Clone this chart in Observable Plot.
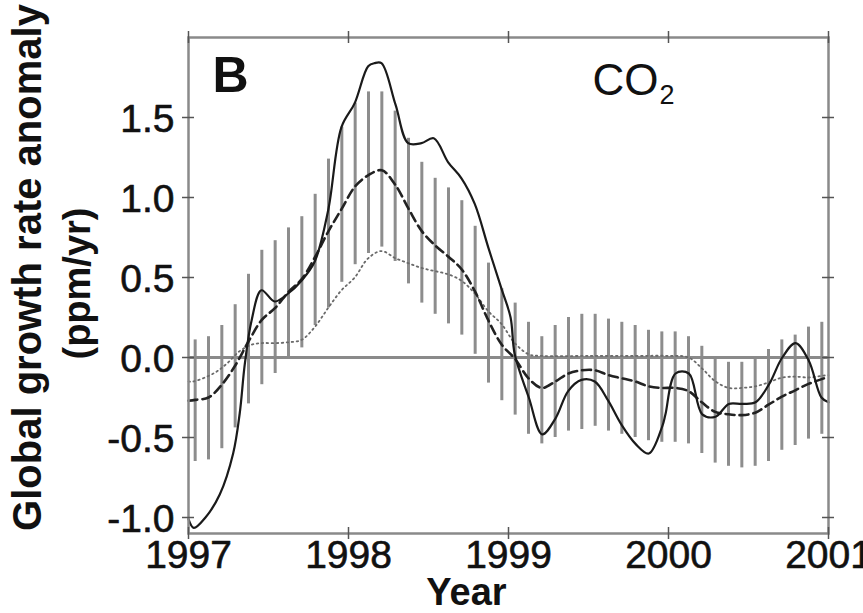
<!DOCTYPE html>
<html><head><meta charset="utf-8">
<script src="https://cdn.jsdelivr.net/npm/d3@7"></script>
<script src="https://cdn.jsdelivr.net/npm/@observablehq/plot@0.6"></script>
<style>
html,body{margin:0;padding:0;background:#fff;}
#chart{width:863px;height:613px;overflow:hidden;}
</style></head><body><div id="chart"></div>
<script>
// ---- data (decimal years, ppm/yr) ----
const xTicks = [1997, 1998, 1999, 2000, 2001];
const yTicks = [-1.0, -0.5, 0.0, 0.5, 1.0, 1.5];

// monthly uncertainty bars (mid-month), 1997-01 .. 2000-12
const barHigh = [0.11, 0.13, 0.20, 0.33, 0.52, 0.67, 0.73, 0.81, 0.88, 1.02, 1.24, 1.44,
                 1.59, 1.66, 1.66, 1.54, 1.37, 1.22, 1.12, 1.06, 0.98, 0.82, 0.59, 0.43,
                 0.34, 0.22, 0.13, 0.20, 0.25, 0.27, 0.27, 0.24, 0.22, 0.20, 0.17, 0.16,
                 0.16, 0.13, 0.07, 0.00, -0.03, -0.03, 0.00, 0.05, 0.11, 0.14, 0.19, 0.22];
const barLow  = [-0.65, -0.64, -0.57, -0.44, -0.29, -0.17, -0.10, 0.00, 0.06, 0.20, 0.31, 0.47,
                 0.58, 0.65, 0.69, 0.60, 0.46, 0.34, 0.27, 0.21, 0.14, 0.02, -0.16, -0.27,
                 -0.36, -0.48, -0.54, -0.50, -0.46, -0.45, -0.43, -0.46, -0.48, -0.50, -0.52, -0.53,
                 -0.53, -0.54, -0.60, -0.66, -0.68, -0.69, -0.68, -0.65, -0.58, -0.55, -0.51, -0.48];
const barTime = d3.range(barHigh.length).map(i => 1997 + (i + 0.5) / 12);

// solid line (observed)
const solidT = [1997.0, 1997.033, 1997.106, 1997.196, 1997.279, 1997.32, 1997.352, 1997.394, 1997.456,
  1997.539, 1997.623, 1997.706, 1997.789, 1997.873, 1997.956, 1998.039, 1998.123, 1998.163, 1998.206,
  1998.294, 1998.373, 1998.456, 1998.533, 1998.623, 1998.706, 1998.789, 1998.873, 1998.956, 1999.013,
  1999.039, 1999.127, 1999.211, 1999.294, 1999.373, 1999.456, 1999.539, 1999.623, 1999.706, 1999.794,
  1999.877, 1999.961, 1999.981, 2000.044, 2000.127, 2000.211, 2000.294, 2000.377, 2000.461, 2000.544,
  2000.627, 2000.711, 2000.794, 2000.877, 2000.956, 2001.0];
const solidV = [-1.01, -1.065, -1.0, -0.855, -0.60, -0.35, -0.04, 0.23, 0.42,
  0.35, 0.40, 0.48, 0.60, 0.92, 1.44, 1.59, 1.82, 1.84, 1.84,
  1.58, 1.34, 1.34, 1.37, 1.22, 1.12, 0.96, 0.69, 0.43, 0.25,
  0.02, -0.25, -0.48, -0.38, -0.21, -0.14, -0.15, -0.27, -0.42, -0.54,
  -0.60, -0.43, -0.355, -0.10, -0.10, -0.355, -0.37, -0.29, -0.29, -0.28,
  -0.17, 0.0, 0.09, -0.02, -0.25, -0.28];

// dashed line (model mean)
const dashT = [1997.0, 1997.042, 1997.125, 1997.208, 1997.292, 1997.375, 1997.458, 1997.542, 1997.625,
  1997.708, 1997.792, 1997.875, 1997.958, 1998.042, 1998.125, 1998.208, 1998.292, 1998.375, 1998.458,
  1998.542, 1998.625, 1998.708, 1998.792, 1998.875, 1998.958, 1999.042, 1999.125, 1999.208, 1999.292,
  1999.375, 1999.458, 1999.542, 1999.625, 1999.708, 1999.792, 1999.875, 1999.958, 2000.042, 2000.125,
  2000.208, 2000.292, 2000.375, 2000.458, 2000.542, 2000.625, 2000.708, 2000.792, 2000.875, 2000.958, 2001.0];
const dashV = [-0.27, -0.265, -0.25, -0.17, -0.05, 0.10, 0.235, 0.31, 0.41,
  0.49, 0.63, 0.79, 0.93, 1.07, 1.14, 1.17, 1.08, 0.93, 0.79,
  0.70, 0.63, 0.55, 0.41, 0.23, 0.08, -0.01, -0.13, -0.19, -0.15,
  -0.10, -0.08, -0.08, -0.11, -0.13, -0.15, -0.18, -0.19, -0.19, -0.21,
  -0.28, -0.34, -0.355, -0.36, -0.345, -0.295, -0.245, -0.205, -0.165, -0.135, -0.12];

// dotted line (second model)
const dotT = [1997.0, 1997.03, 1997.156, 1997.238, 1997.32, 1997.394, 1997.456, 1997.539, 1997.623,
  1997.706, 1997.789, 1997.873, 1997.956, 1998.039, 1998.123, 1998.206, 1998.294, 1998.373, 1998.456,
  1998.539, 1998.623, 1998.706, 1998.789, 1998.873, 1998.956, 1999.039, 1999.127, 1999.211, 1999.5,
  1999.8, 2000.0, 2000.125, 2000.211, 2000.294, 2000.377, 2000.461, 2000.544, 2000.627, 2000.711,
  2000.794, 2000.877, 2000.956, 2001.0];
const dotV = [-0.15, -0.15, -0.10, -0.04, 0.04, 0.08, 0.09, 0.09, 0.095,
  0.11, 0.19, 0.31, 0.42, 0.50, 0.62, 0.665, 0.62, 0.59, 0.56,
  0.54, 0.52, 0.48, 0.40, 0.29, 0.21, 0.09, 0.02, 0.01, 0.01,
  0.01, 0.01, 0.0, -0.07, -0.15, -0.19, -0.19, -0.18, -0.155, -0.125,
  -0.12, -0.125, -0.115, -0.11];

// ---- build ----
const xDom = [1997, 2001], yDom = [-1.1, 2.0];
const W = 863, H = 613, mL = 188, mR = 35, mT = 37, mB = 80;
const kx = 6 * (xDom[1] - xDom[0]) / (W - mL - mR);
const ky = 6 * (yDom[1] - yDom[0]) / (H - mT - mB);
const font = "'Liberation Sans', Arial, Helvetica, sans-serif";
const bars = barTime.map((t, i) => ({t, lo: barLow[i], hi: barHigh[i]}));
const solid = solidT.map((t, i) => ({t, v: solidV[i]}));
const dashed = dashT.map((t, i) => ({t, v: dashV[i]}));
const dotted = dotT.map((t, i) => ({t, v: dotV[i]}));
const tickCol = "#555";
const ink = "#111";

const chart = Plot.plot({
  width: W, height: H,
  marginLeft: mL, marginRight: mR, marginTop: mT, marginBottom: mB,
  style: {background: "#fff", fontFamily: font, color: ink},
  x: {domain: xDom, axis: null},
  y: {domain: yDom, axis: null},
  marks: [
    Plot.ruleX(bars, {x: "t", y1: "lo", y2: "hi", stroke: "#8d8d8d", strokeWidth: 3}),
    Plot.ruleY([0], {stroke: "#8a8a8a", strokeWidth: 3}),
    Plot.line(dotted, {x: "t", y: "v", stroke: "#6a6a6a", strokeWidth: 1.8, strokeDasharray: "1.5,3.5", curve: "catmull-rom"}),
    Plot.line(dashed, {x: "t", y: "v", stroke: "#222", strokeWidth: 2.6, strokeDasharray: "9,5", curve: "catmull-rom"}),
    Plot.line(solid, {x: "t", y: "v", stroke: "#1a1a1a", strokeWidth: 2.2, curve: "catmull-rom"}),
    Plot.frame({stroke: "#8a8a8a", strokeWidth: 2.5}),
    // ticks crossing the frame on all four sides
    Plot.ruleX(xTicks, {x: d => d, y1: yDom[0] - ky, y2: yDom[0] + ky, stroke: tickCol, strokeWidth: 1.5}),
    Plot.ruleX(xTicks, {x: d => d, y1: yDom[1] - ky, y2: yDom[1] + ky, stroke: tickCol, strokeWidth: 1.5}),
    Plot.ruleY(yTicks, {y: d => d, x1: xDom[0] - kx, x2: xDom[0] + kx, stroke: tickCol, strokeWidth: 1.5}),
    Plot.ruleY(yTicks, {y: d => d, x1: xDom[1] - kx, x2: xDom[1] + kx, stroke: tickCol, strokeWidth: 1.5}),
    // tick labels
    Plot.text(yTicks, {y: d => d, frameAnchor: "left", text: d => d.toFixed(1), textAnchor: "end",
      lineAnchor: "middle", dx: -14, dy: 2, fontSize: 39, fill: ink, stroke: ink, strokeWidth: 0.6}),
    Plot.text(xTicks, {x: d => d, frameAnchor: "bottom", text: d => String(d), textAnchor: "middle",
      lineAnchor: "bottom", dy: 34, fontSize: 39, fill: ink, stroke: ink, strokeWidth: 0.6}),
    // axis titles
    Plot.text(["Global growth rate anomaly"], {frameAnchor: "left", text: d => d, rotate: -90,
      textAnchor: "middle", lineAnchor: "bottom", dx: -148, dy: -18, fontSize: 40, fontWeight: "bold", fill: ink}),
    Plot.text(["(ppm/yr)"], {frameAnchor: "left", text: d => d, rotate: -90,
      textAnchor: "middle", lineAnchor: "bottom", dx: -99, dy: -2, fontSize: 38, fontWeight: "bold", fill: ink}),
    Plot.text(["Year"], {frameAnchor: "bottom", text: d => d, textAnchor: "middle",
      lineAnchor: "bottom", dx: -42, dy: 71, fontSize: 38, fontWeight: "bold", fill: ink}),
    // panel labels
    Plot.text(["B"], {frameAnchor: "top-left", text: d => d, textAnchor: "start", lineAnchor: "bottom",
      dx: 24, dy: 54, fontSize: 50, fontWeight: "bold", fill: ink}),
    Plot.text(["CO"], {frameAnchor: "top-left", text: d => d, textAnchor: "start", lineAnchor: "bottom",
      dx: 404, dy: 57, fontSize: 44, fill: ink}),
    Plot.text(["2"], {frameAnchor: "top-left", text: d => d, textAnchor: "start", lineAnchor: "bottom",
      dx: 471, dy: 66, fontSize: 27, fill: ink})
  ]
});
document.getElementById("chart").appendChild(chart);
</script>
</body></html>
